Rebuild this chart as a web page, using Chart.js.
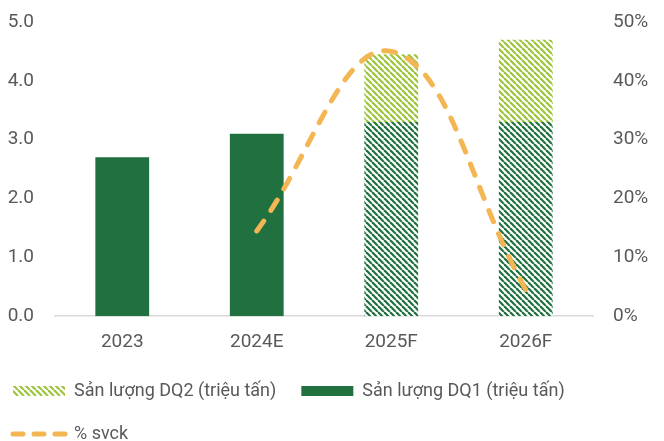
<!DOCTYPE html>
<html>
<head>
<meta charset="utf-8">
<script src="https://cdn.jsdelivr.net/npm/chart.js@4.4.1/dist/chart.umd.min.js"></script>
<style>
  html, body { margin: 0; padding: 0; background: #fff; }
  #wrap { width: 664px; height: 441px; }
</style>
</head>
<body>
<div id="wrap"><canvas id="sanluong"></canvas></div>
<script>
// categories and series
var years = ['2023', '2024E', '2025F', '2026F'];
var dq1 = [2.7, 3.1, 3.3, 3.3];
var dq2 = [null, null, 1.15, 1.4];
var svck = [null, 14.5, 45, 4.5];
var isForecast = [false, false, true, true];

var darkGreen = '#21703f';
var lightGreen = '#9cc43c';
var orange = '#f4b653';
var textGrey = '#595959';

// diagonal "\" stripes on white
function stripes(color) {
    var s = 6;
    var c = document.createElement('canvas');
    c.width = s; c.height = s;
    var g = c.getContext('2d');
    g.fillStyle = '#fff';
    g.fillRect(0, 0, s, s);
    g.strokeStyle = color;
    g.lineWidth = 2.2;
    for (var k = -s; k <= s; k += s) {
        g.beginPath();
        g.moveTo(k, 0);
        g.lineTo(k + s, s);
        g.stroke();
    }
    return g.createPattern(c, 'repeat');
}

var ctx = document.getElementById('sanluong').getContext('2d');
var patDark = stripes(darkGreen);
var patLight = stripes(lightGreen);

var dq1Colors = [];
for (i = 0; i < dq1.length; i++) {
    dq1Colors.push(isForecast[i] ? patDark : darkGreen);
}

// pull the legend rows over to the left edge and up under the axis
var legendShift = {
    id: 'legendShift',
    afterLayout: function (chart) {
        chart.legend.left -= 18;
        chart.legend.top -= 12;
        chart.legend.bottom -= 12;
    }
};

// value axes: fixed width, no extra room reserved above the top tick
function fixAxis(width) {
    return function (s) {
        s.width = width;
        s.paddingTop = 0;
    };
}

Chart.defaults.font.family = 'Roboto';
Chart.defaults.color = textGrey;

var chart = new Chart(ctx, {
    type: 'bar',
    data: {
        labels: years,
        datasets: [
            {
                label: 'Sản lượng DQ2 (triệu tấn)',
                data: dq2,
                backgroundColor: patLight,
                stack: 's',
                order: 2,
                categoryPercentage: 0.8,
                barPercentage: 0.5
            },
            {
                label: 'Sản lượng DQ1 (triệu tấn)',
                data: dq1,
                backgroundColor: dq1Colors,
                stack: 's',
                order: 1,
                categoryPercentage: 0.8,
                barPercentage: 0.5
            },
            {
                type: 'line',
                label: '% svck',
                data: svck,
                yAxisID: 'y1',
                borderColor: orange,
                backgroundColor: orange,
                borderWidth: 5,
                borderDash: [12, 13],
                borderCapStyle: 'round',
                tension: 0.4,
                pointRadius: 0,
                fill: false,
                clip: false,
                order: 0
            }
        ]
    },
    options: {
        responsive: true,
        maintainAspectRatio: false,
        animation: false,
        layout: { padding: { left: 6, right: 12, top: 22, bottom: -24 } },
        plugins: {
            tooltip: { enabled: false },
            legend: {
                position: 'bottom',
                align: 'start',
                labels: {
                    usePointStyle: true,
                    pointStyleWidth: 52,
                    boxHeight: 10,
                    padding: 25,
                    color: textGrey,
                    font: { size: 18 },
                    sort: function (a, b) { return a.datasetIndex - b.datasetIndex; },
                    generateLabels: function (chart) {
                        var items = Chart.defaults.plugins.legend.labels.generateLabels(chart);
                        items.forEach(function (it) {
                            if (it.datasetIndex === 2) {
                                it.pointStyle = 'line';
                                it.lineWidth = 5;
                                it.lineDash = [10, 11];
                                it.lineCap = 'round';
                                it.strokeStyle = orange;
                            } else {
                                it.pointStyle = 'rect';
                                it.lineWidth = 0;
                                it.strokeStyle = 'rgba(0,0,0,0)';
                                it.fillStyle = it.datasetIndex === 1 ? darkGreen : patLight;
                            }
                        });
                        return items;
                    }
                }
            }
        },
        scales: {
            x: {
                stacked: true,
                grid: { display: false, drawTicks: false },
                border: { display: true, color: '#d9d9d9', width: 1.5 },
                ticks: { padding: 15, font: { size: 19 }, color: textGrey }
            },
            y: {
                stacked: true,
                position: 'left',
                min: 0,
                max: 5,
                grid: { display: false, drawTicks: false },
                border: { display: false },
                afterFit: fixAxis(49),
                ticks: {
                    stepSize: 1,
                    padding: 21,
                    font: { size: 19 },
                    color: textGrey,
                    callback: function (v) { return v.toFixed(1); }
                }
            },
            y1: {
                position: 'right',
                min: 0,
                max: 50,
                grid: { display: false, drawTicks: false },
                border: { display: false },
                afterFit: fixAxis(59),
                ticks: {
                    stepSize: 10,
                    padding: 20,
                    font: { size: 19 },
                    color: textGrey,
                    callback: function (v) { return v + '%'; }
                }
            }
        }
    },
    plugins: [legendShift]
});
</script>
</body>
</html>
